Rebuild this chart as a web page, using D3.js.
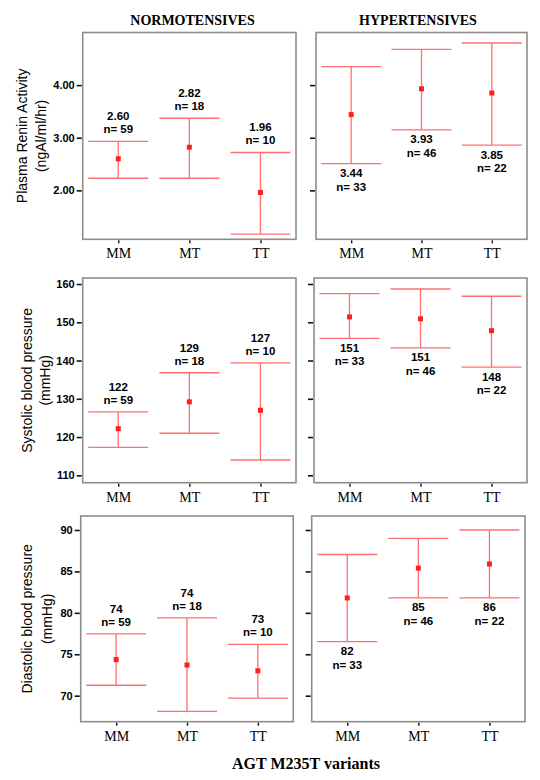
<!DOCTYPE html>
<html>
<head>
<meta charset="utf-8">
<script src="https://cdn.jsdelivr.net/npm/d3@7"></script>
<style>
  html, body { margin: 0; padding: 0; background: #fff; }
  svg { display: block; }
</style>
</head>
<body>
<svg id="chart" width="540" height="780"></svg>
<script>
// ---------- DATA ----------
const categories = ["MM", "MT", "TT"];
const groups = ["NORMOTENSIVES", "HYPERTENSIVES"];
const xTitle = "AGT M235T variants";

// Plasma renin activity
const reninTitle = ["Plasma Renin Activity", "(ngAl/ml/hr)"];
const reninTicks = [2, 3, 4];
const reninNormMean  = [2.60, 2.82, 1.96];
const reninNormUpper = [2.93, 3.37, 2.72];
const reninNormLower = [2.23, 2.23, 1.17];
const reninHyperMean  = [3.44, 3.93, 3.85];
const reninHyperUpper = [4.35, 4.68, 4.80];
const reninHyperLower = [2.51, 3.15, 2.86];

// Systolic blood pressure
const sysTitle = ["Systolic blood pressure", "(mmHg)"];
const sysTicks = [110, 120, 130, 140, 150, 160];
const sysNormMean  = [122.2, 129.2, 127.0];
const sysNormUpper = [126.6, 136.8, 139.4];
const sysNormLower = [117.3, 121.0, 114.0];
const sysHyperMean  = [151.4, 150.9, 147.8];
const sysHyperUpper = [157.5, 158.7, 156.8];
const sysHyperLower = [145.8, 143.3, 138.3];

// Diastolic blood pressure
const diaTitle = ["Diastolic blood pressure", "(mmHg)"];
const diaTicks = [70, 75, 80, 85, 90];
const diaNormMean  = [74.36, 73.7, 73.0];
const diaNormUpper = [77.45, 79.4, 76.2];
const diaNormLower = [71.26, 68.1, 69.7];
const diaHyperMean  = [81.8, 85.4, 85.9];
const diaHyperUpper = [87.04, 89.0, 90.0];
const diaHyperLower = [76.53, 81.8, 81.8];

// group sizes
const nNorm  = [59, 18, 10];
const nHyper = [33, 46, 22];

// ---------- LAYOUT ----------
const rows = [
  { title: reninTitle, ticks: reninTicks, tickFmt: ".2f", labelFmt: ".2f", domain: [1.07, 5.0],
    y: [32.5, 239.3], left: [82.7, 296], right: [316, 527], titleX: [21.7, 40.7],
    series: [
      { mean: reninNormMean, upper: reninNormUpper, lower: reninNormLower, n: nNorm },
      { mean: reninHyperMean, upper: reninHyperUpper, lower: reninHyperLower, n: nHyper } ] },
  { title: sysTitle, ticks: sysTicks, tickFmt: "d", labelFmt: ".0f", domain: [108.07, 161.57],
    y: [278, 482.7], left: [82.7, 296], right: [314, 527], titleX: [27.3, 44.8],
    series: [
      { mean: sysNormMean, upper: sysNormUpper, lower: sysNormLower, n: nNorm },
      { mean: sysHyperMean, upper: sysHyperUpper, lower: sysHyperLower, n: nHyper } ] },
  { title: diaTitle, ticks: diaTicks, tickFmt: "d", labelFmt: ".0f", domain: [66.86, 91.69],
    y: [516, 721.7], left: [80.7, 293.3], right: [311.7, 525], titleX: [27.3, 46.5],
    series: [
      { mean: diaNormMean, upper: diaNormUpper, lower: diaNormLower, n: nNorm },
      { mean: diaHyperMean, upper: diaHyperUpper, lower: diaHyperLower, n: nHyper } ] }
];

const svg = d3.select("#chart");
const sans = "'Liberation Sans', Arial, sans-serif";
const serif = "'Liberation Serif', 'Times New Roman', serif";
const frameColor = "#8c8c8c";
const barColor = "#ff6f6f";
const markColor = "#ff1f1f";
const capHalf = 30;

// column titles
const colCenters = [192.5, 418];
svg.selectAll("text.col").data(groups).join("text")
  .attr("class", "col")
  .attr("x", (d, i) => colCenters[i]).attr("y", 25)
  .attr("text-anchor", "middle")
  .style("font-family", serif).style("font-weight", "bold").style("font-size", "14px")
  .text(d => d);

rows.forEach((row, ri) => {
  const y = d3.scaleLinear().domain(row.domain).range([row.y[1], row.y[0]]);
  const fmtLabel = d3.format(row.labelFmt);

  // y-axis title
  const cy = (row.y[0] + row.y[1]) / 2;
  row.title.forEach((t, li) => {
    svg.append("text")
      .attr("transform", `translate(${row.titleX[li]},${cy}) rotate(-90)`)
      .attr("text-anchor", "middle").attr("dominant-baseline", "central")
      .style("font-family", sans).style("font-size", "14px")
      .text(t);
  });

  [row.left, row.right].forEach((xr, gi) => {
    const s = row.series[gi];
    const x = d3.scalePoint().domain(categories).range(xr).padding(0.5);
    const g = svg.append("g");

    // frame
    g.append("rect")
      .attr("x", xr[0]).attr("y", row.y[0])
      .attr("width", xr[1] - xr[0]).attr("height", row.y[1] - row.y[0])
      .attr("fill", "none").attr("stroke", frameColor).attr("stroke-width", 1.6);

    // y axis
    const ya = d3.axisLeft(y).tickValues(row.ticks).tickSize(5).tickPadding(2)
      .tickFormat(gi === 0 ? d3.format(row.tickFmt) : "");
    const yg = g.append("g").attr("transform", `translate(${xr[0] - 1},0)`).call(ya);
    yg.select(".domain").remove();
    yg.selectAll("line").attr("stroke", "#111").attr("stroke-width", 1.6);
    yg.selectAll("text").style("font-family", sans).style("font-weight", "bold")
      .style("font-size", "11px").attr("fill", "#000");

    // x axis
    const xa = d3.axisBottom(x).tickSize(3).tickPadding(5);
    const xg = g.append("g").attr("transform", `translate(0,${row.y[1] + 1})`).call(xa);
    xg.select(".domain").remove();
    xg.selectAll("line").attr("stroke", "#111").attr("stroke-width", 1.4);
    xg.selectAll("text").style("font-family", serif).style("font-size", "14px").attr("fill", "#000");

    // error bars
    categories.forEach((c, i) => {
      const cx = x(c);
      g.append("line").attr("x1", cx).attr("x2", cx)
        .attr("y1", y(s.upper[i])).attr("y2", y(s.lower[i]))
        .attr("stroke", barColor).attr("stroke-width", 1.3);
      [s.upper[i], s.lower[i]].forEach(v => {
        g.append("line").attr("x1", cx - capHalf).attr("x2", cx + capHalf)
          .attr("y1", y(v)).attr("y2", y(v))
          .attr("stroke", barColor).attr("stroke-width", 1.3);
      });
      g.append("rect").attr("x", cx - 2.5).attr("y", y(s.mean[i]) - 2.5)
        .attr("width", 5).attr("height", 5).attr("fill", markColor);

      // value labels
      let y1, y2;
      if (gi === 0) { y2 = y(s.upper[i]) - 8; y1 = y2 - 13; }
      else { y1 = y(s.lower[i]) + 13.5; y2 = y1 + 13.5; }
      [[fmtLabel(s.mean[i]), y1], ["n= " + s.n[i], y2]].forEach(([t, ty]) => {
        g.append("text").attr("x", cx).attr("y", ty).attr("text-anchor", "middle")
          .style("font-family", sans).style("font-weight", "bold").style("font-size", "11.5px")
          .text(t);
      });
    });
  });
});

// bottom title
svg.append("text").attr("x", 306).attr("y", 769).attr("text-anchor", "middle")
  .style("font-family", serif).style("font-weight", "bold").style("font-size", "16px")
  .text(xTitle);
</script>
</body>
</html>
